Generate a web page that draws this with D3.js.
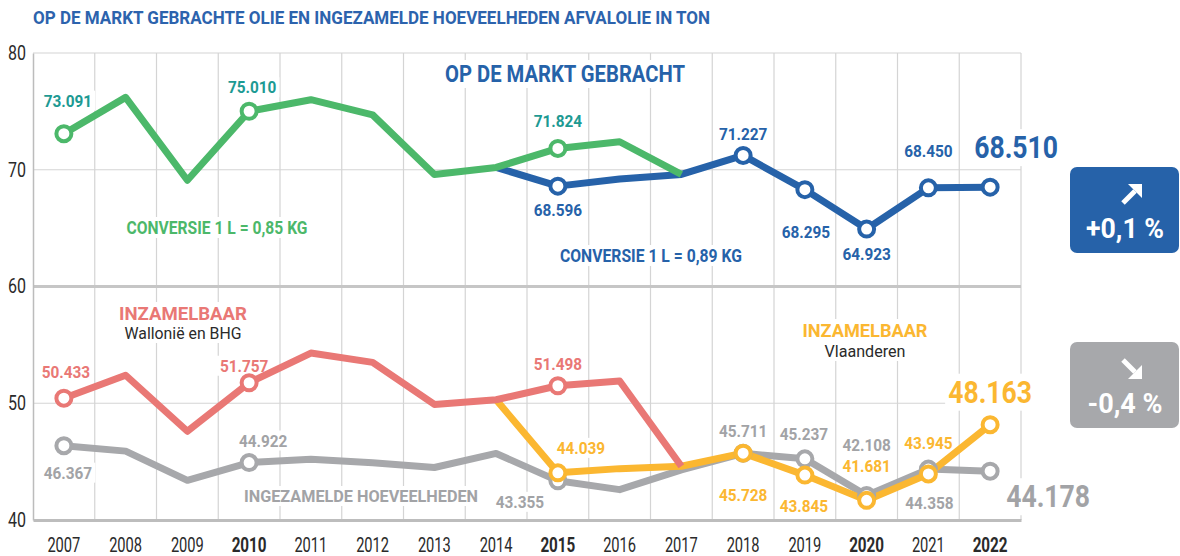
<!DOCTYPE html>
<html>
<head>
<meta charset="utf-8">
<script src="https://cdn.jsdelivr.net/npm/d3@7"></script>
<style>
  html, body { margin: 0; padding: 0; background: #fff; }
  svg { display: block; }
</style>
</head>
<body>
<svg id="chart" width="1180" height="556"></svg>
<script>
// Years on the horizontal axis
const years = [2007, 2008, 2009, 2010, 2011, 2012, 2013, 2014, 2015, 2016, 2017, 2018, 2019, 2020, 2021, 2022];
const boldYears = [2010, 2015, 2020, 2022];
const yTicks = [40, 50, 60, 70, 80];

// Thousand tonnes; null where a series has no value
const marketOld = [73.091, 76.2, 69.1, 75.010, 76.0, 74.7, 69.6, 70.2, 71.824, 72.4, 69.6, null, null, null, null, null];
const marketNew = [null, null, null, null, null, null, null, 70.2, 68.596, 69.2, 69.6, 71.227, 68.295, 64.923, 68.450, 68.510];
const collectableWallonia = [50.433, 52.4, 47.6, 51.757, 54.3, 53.5, 49.9, 50.3, 51.498, 51.9, 44.6, null, null, null, null, null];
const collectableFlanders = [null, null, null, null, null, null, null, 50.3, 44.039, 44.4, 44.6, 45.728, 43.845, 41.681, 43.945, 48.163];
const collected = [46.367, 45.9, 43.4, 44.922, 45.2, 44.9, 44.5, 45.7, 43.355, 42.6, 44.3, 45.711, 45.237, 42.108, 44.358, 44.178];

// Years that carry an open marker
const markersOld = [2007, 2010, 2015];
const markersNew = [2015, 2018, 2019, 2020, 2021, 2022];
const markersWallonia = [2007, 2010, 2015];
const markersFlanders = [2015, 2018, 2019, 2020, 2021, 2022];
const markersCollected = [2007, 2010, 2015, 2018, 2019, 2020, 2021, 2022];

const FONT = 'Roboto, "Noto Sans", sans-serif';
const C = {
  green: "#4cb86a", teal: "#1d9a93", blue: "#2662a9", red: "#e97875",
  gray: "#a7a8ab", grayText: "#a2a3a6", yellow: "#fbb731", title: "#2c63ad",
  grid: "#d4d4d4", text: "#2a2a2a"
};

const svg = d3.select("#chart").style("font-family", FONT);

// Condensed look: squeeze text to a given advance width
function fit(sel, w) {
  return sel.attr("textLength", w).attr("lengthAdjust", "spacingAndGlyphs");
}

const x = d3.scaleBand().domain(years).range([33, 1021]).padding(0);
const cx = yr => x(yr) + x.bandwidth() / 2;
const y = d3.scaleLinear().domain([40, 80]).range([520, 53]);

// Title
fit(svg.append("text")
  .attr("x", 33).attr("y", 24)
  .attr("font-size", 18).attr("font-weight", 700)
  .attr("fill", C.title)
  .text("OP DE MARKT GEBRACHTE OLIE EN INGEZAMELDE HOEVEELHEDEN AFVALOLIE IN TON"), 677);

// Grid
const grid = svg.append("g");
grid.selectAll("line.v")
  .data(years.slice(1).map(yr => x(yr)).concat([x.range()[1]]))
  .join("line")
  .attr("x1", d => d).attr("x2", d => d)
  .attr("y1", y(80)).attr("y2", y(40))
  .attr("stroke", C.grid).attr("stroke-width", 1.2);
grid.selectAll("line.h")
  .data(yTicks.filter(t => t !== 40))
  .join("line")
  .attr("x1", 33).attr("x2", 1021)
  .attr("y1", d => y(d)).attr("y2", d => y(d))
  .attr("stroke", d => d === 60 ? "#c6c6c6" : C.grid)
  .attr("stroke-width", d => d === 60 ? 3 : 1.2);

// Axes
const yAxis = svg.append("g")
  .attr("transform", "translate(33,0)")
  .call(d3.axisLeft(y).tickValues(yTicks).tickSize(0).tickPadding(7));
yAxis.select(".domain").attr("stroke", "#bcbcbc").attr("stroke-width", 1.5);
yAxis.selectAll("text").attr("font-family", FONT).attr("font-size", 19.5).attr("fill", C.text)
  .call(s => fit(s, 18));

const xAxis = svg.append("g")
  .attr("transform", `translate(0,${y(40)})`)
  .call(d3.axisBottom(x).tickSize(0).tickPadding(18));
xAxis.select(".domain").attr("stroke", "#bdbdbd").attr("stroke-width", 3);
xAxis.selectAll("text")
  .attr("font-family", FONT).attr("font-size", 19.5).attr("fill", C.text)
  .attr("font-weight", d => boldYears.includes(d) ? 700 : 400)
  .each(function (d) { fit(d3.select(this), boldYears.includes(d) ? 35 : 33); });

// White boxes behind the labels interrupt the grid
const labelBg = svg.append("g");
const lineLayer = svg.append("g");
const markerLayer = svg.append("g");
const labelLayer = svg.append("g");

const series = [
  { key: "collected", values: collected, color: C.gray, markers: markersCollected },
  { key: "flanders", values: collectableFlanders, color: C.yellow, markers: markersFlanders },
  { key: "wallonia", values: collectableWallonia, color: C.red, markers: markersWallonia },
  { key: "new", values: marketNew, color: C.blue, markers: markersNew },
  { key: "old", values: marketOld, color: C.green, markers: markersOld }
];

const line = d3.line()
  .defined(d => d.v !== null)
  .x(d => cx(d.year))
  .y(d => y(d.v));

series.forEach(s => {
  s.points = years.map((yr, i) => ({ year: yr, v: s.values[i] }));
  lineLayer.append("path")
    .datum(s.points)
    .attr("d", line)
    .attr("fill", "none")
    .attr("stroke", s.color)
    .attr("stroke-width", 7)
    .attr("stroke-linejoin", "round");
});

series.forEach(s => {
  markerLayer.selectAll(null)
    .data(s.points.filter(p => s.markers.includes(p.year)))
    .join("circle")
    .attr("cx", d => cx(d.year)).attr("cy", d => y(d.v))
    .attr("r", 7.5)
    .attr("fill", "#fff")
    .attr("stroke", s.color).attr("stroke-width", 4);
});

const byKey = Object.fromEntries(series.map(s => [s.key, s]));
const fmt = d3.format(".3f");

function addLabel(tx, ty, text, opts) {
  const t = labelLayer.append("text")
    .attr("x", tx).attr("y", ty)
    .attr("text-anchor", opts.anchor || "middle")
    .attr("font-size", opts.size)
    .attr("font-weight", opts.weight === undefined ? 700 : opts.weight)
    .attr("fill", opts.color)
    .text(text);
  if (opts.width) fit(t, opts.width);
  const b = t.node().getBBox();
  labelBg.append("rect")
    .attr("x", b.x - 3).attr("y", b.y)
    .attr("width", b.width + 6).attr("height", b.height)
    .attr("fill", "#fff");
  return t;
}

// Value labels placed relative to their point
const valueLabels = [
  { s: "old", year: 2007, dx: 4, dy: -27, color: C.teal },
  { s: "old", year: 2010, dx: 3, dy: -18, color: C.teal },
  { s: "old", year: 2015, dx: 0, dy: -21, color: C.teal },
  { s: "new", year: 2015, dx: 0, dy: 30, color: C.blue },
  { s: "new", year: 2018, dx: 0, dy: -15, color: C.blue },
  { s: "new", year: 2019, dx: 1, dy: 48, color: C.blue },
  { s: "new", year: 2020, dx: 0, dy: 31, color: C.blue },
  { s: "new", year: 2021, dx: 0, dy: -31, color: C.blue },
  { s: "new", year: 2022, dx: 26, dy: -29, color: C.blue, big: true },
  { s: "wallonia", year: 2007, dx: 2, dy: -20, color: C.red },
  { s: "wallonia", year: 2010, dx: -5, dy: -11, color: C.red },
  { s: "wallonia", year: 2015, dx: 0, dy: -16, color: C.red },
  { s: "collected", year: 2007, dx: 4, dy: 33, color: C.grayText },
  { s: "collected", year: 2010, dx: 14, dy: -16, color: C.grayText },
  { s: "collected", year: 2015, dx: -38, dy: 27, color: C.grayText },
  { s: "collected", year: 2018, dx: 0, dy: -16, color: C.grayText },
  { s: "collected", year: 2019, dx: -1, dy: -19, color: C.grayText },
  { s: "collected", year: 2020, dx: 0, dy: -44, color: C.grayText },
  { s: "collected", year: 2021, dx: 1, dy: 40, color: C.grayText },
  { s: "collected", year: 2022, dx: 58, dy: 36, color: C.grayText, big: true },
  { s: "flanders", year: 2015, dx: 23, dy: -19, color: C.yellow },
  { s: "flanders", year: 2018, dx: 0, dy: 48, color: C.yellow },
  { s: "flanders", year: 2019, dx: -1, dy: 37, color: C.yellow },
  { s: "flanders", year: 2020, dx: 0, dy: -28, color: C.yellow },
  { s: "flanders", year: 2021, dx: 0, dy: -25, color: C.yellow },
  { s: "flanders", year: 2022, dx: 0, dy: -22, color: C.yellow, big: true }
];

valueLabels.forEach(l => {
  const v = byKey[l.s].values[years.indexOf(l.year)];
  addLabel(cx(l.year) + l.dx, y(v) + l.dy, fmt(v), {
    size: l.big ? 31 : 17, width: l.big ? 84 : 48.5, color: l.color
  });
});

// Series captions
addLabel(565, 82, "OP DE MARKT GEBRACHT", { size: 24, width: 240, color: C.blue });
addLabel(217, 234, "CONVERSIE 1 L = 0,85 KG", { size: 18, width: 181, color: C.green });
addLabel(651, 262, "CONVERSIE 1 L = 0,89 KG", { size: 18, width: 182, color: C.blue });
addLabel(183, 320, "INZAMELBAAR", { size: 19, width: 128, color: C.red });
addLabel(183, 339, "Wallonië en BHG", { size: 17, width: 117, color: C.text, weight: 400 });
addLabel(865, 337, "INZAMELBAAR", { size: 19, width: 125, color: C.yellow });
addLabel(865, 357, "Vlaanderen", { size: 17, width: 81, color: C.text, weight: 400 });
addLabel(361, 502, "INGEZAMELDE HOEVEELHEDEN", { size: 17, width: 234, color: C.grayText });

// Change badges, last year versus the year before
const pctFmt = v => (v >= 0 ? "+" : "-") + d3.format(".1f")(Math.abs(v)).replace(".", ",") + " %";
function badge(top, color, values, up) {
  const n = years.length;
  const change = (values[n - 1] / values[n - 2] - 1) * 100;
  const g = svg.append("g");
  g.append("rect")
    .attr("x", 1070).attr("y", top).attr("width", 109).attr("height", 86)
    .attr("rx", 7).attr("fill", color);
  const ax = 1132, ay = top + 27;
  const dir = up ? -1 : 1;
  g.append("line")
    .attr("x1", ax - 9).attr("y1", ay - 9 * dir)
    .attr("x2", ax + 3).attr("y2", ay + 3 * dir)
    .attr("stroke", "#fff").attr("stroke-width", 5);
  g.append("path")
    .attr("d", `M${ax + 10},${ay + 10 * dir} L${ax - 4},${ay + 10 * dir} L${ax + 10},${ay - 4 * dir} Z`)
    .attr("fill", "#fff");
  fit(g.append("text")
    .attr("x", 1125).attr("y", top + 71)
    .attr("text-anchor", "middle")
    .attr("font-size", 28).attr("font-weight", 700)
    .attr("fill", "#fff")
    .text(pctFmt(change)), up ? 78 : 75);
}
badge(167, C.blue, marketNew, true);
badge(342, C.gray, collected, false);
</script>
</body>
</html>
